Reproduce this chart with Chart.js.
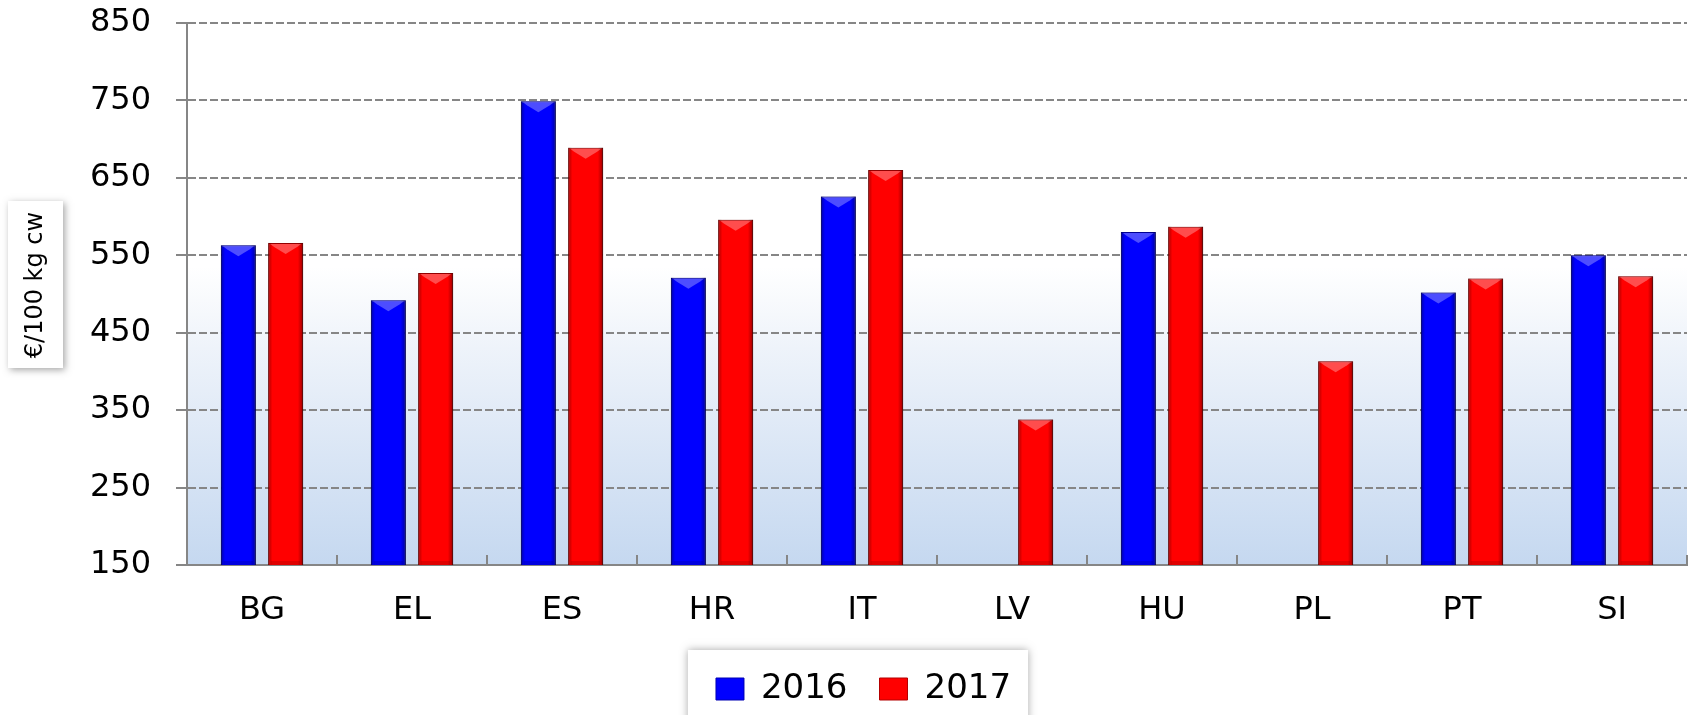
<!DOCTYPE html>
<html>
<head>
<meta charset="utf-8">
<script src="https://cdn.jsdelivr.net/npm/chart.js@4.4.1/dist/chart.umd.min.js"></script>
<style>
  html, body { margin: 0; padding: 0; background: #ffffff; }
  #wrap { width: 1690px; height: 715px; position: relative; }
</style>
</head>
<body>
<div id="wrap"><canvas id="c" width="1690" height="715"></canvas></div>
<script>
const categories = ['BG', 'EL', 'ES', 'HR', 'IT', 'LV', 'HU', 'PL', 'PT', 'SI'];
const values2016 = [563, 492, 749, 521, 626, null, 580, null, 502, 550];
const values2017 = [566, 527, 689, 596, 660, 338, 587, 413, 520, 523];
const seriesNames = ['2016', '2017'];
const yMin = 150;
const yMax = 850;
const yStep = 100;
const yTitle = '€/100 kg cw';

const FONT = 'DejaVu Sans';
const GRID = '#868686';

const bgPlugin = {
  id: 'bgPlugin',
  beforeDraw(chart) {
    const { ctx, chartArea: a } = chart;
    ctx.save();
    const g = ctx.createLinearGradient(0, a.top, 0, a.bottom);
    g.addColorStop(0, '#ffffff');
    g.addColorStop(0.45, '#ffffff');
    g.addColorStop(0.6, '#eef3fa');
    g.addColorStop(1, '#c5d8f0');
    ctx.fillStyle = g;
    ctx.fillRect(a.left, a.top, a.right - a.left, a.bottom - a.top);

    ctx.save();
    ctx.shadowColor = 'rgba(0,0,0,0.35)';
    ctx.shadowBlur = 7;
    ctx.shadowOffsetX = 2;
    ctx.shadowOffsetY = 2;
    ctx.fillStyle = '#ffffff';
    ctx.fillRect(8, 201, 55, 167);
    ctx.restore();

    const lg = chart.legend;
    if (lg && lg.legendHitBoxes && lg.legendHitBoxes.length) {
      const hb = lg.legendHitBoxes;
      const l = hb[0].left - 28;
      const r = hb[hb.length - 1].left + hb[hb.length - 1].width + 17;
      const cy = hb[0].top + hb[0].height / 2;
      const t = cy - 39;
      ctx.save();
      ctx.shadowColor = 'rgba(0,0,0,0.35)';
      ctx.shadowBlur = 8;
      ctx.fillStyle = '#ffffff';
      ctx.fillRect(l, t, r - l, 120);
      ctx.restore();
    }
    ctx.restore();
  },
  beforeDatasetsDraw(chart) {
    const ctx = chart.ctx;
    ctx.save();
    ctx.shadowColor = 'rgba(0,0,0,0.4)';
    ctx.shadowBlur = 6;
    ctx.shadowOffsetX = 1;
    ctx.shadowOffsetY = 0;
  },
  afterDatasetsDraw(chart) {
    const ctx = chart.ctx;
    const a = chart.chartArea;
    ctx.restore();
    ctx.save();
    chart.data.datasets.forEach((ds, di) => {
      const meta = chart.getDatasetMeta(di);
      meta.data.forEach((bar, i) => {
        if (ds.data[i] === null || ds.data[i] === undefined) return;
        const w = bar.width, x = bar.x;
        const t = Math.max(bar.y, a.top);
        const b = Math.min(bar.base, a.bottom);
        const l = x - w / 2, r = x + w / 2;
        const eg = ctx.createLinearGradient(l, 0, r, 0);
        eg.addColorStop(0, 'rgba(0,0,0,0.35)');
        eg.addColorStop(0.12, 'rgba(0,0,0,0)');
        eg.addColorStop(0.85, 'rgba(0,0,0,0)');
        eg.addColorStop(1, 'rgba(0,0,0,0.4)');
        ctx.fillStyle = eg;
        ctx.fillRect(l, t, w, b - t);
        ctx.beginPath();
        ctx.moveTo(l + 2, t + 1);
        ctx.lineTo(r - 2, t + 1);
        ctx.lineTo(r - 6, t + 4);
        ctx.lineTo(x, t + 11);
        ctx.lineTo(l + 6, t + 4);
        ctx.closePath();
        ctx.fillStyle = 'rgba(255,255,255,0.3)';
        ctx.fill();
        ctx.fillStyle = 'rgba(0,0,0,0.12)';
        ctx.fillRect(l + 3, b - 4, w - 6, 4);
      });
    });
    ctx.restore();
  },
  afterDraw(chart) {
    const { ctx, chartArea: a } = chart;
    const xs = chart.scales.x;
    const ys = chart.scales.y;
    ctx.save();
    ctx.strokeStyle = GRID;
    ctx.lineWidth = 2;
    for (let i = 0; i < categories.length; i++) {
      let px;
      if (i < categories.length - 1) {
        px = (xs.getPixelForTick(i) + xs.getPixelForTick(i + 1)) / 2;
      } else {
        px = a.right;
      }
      ctx.beginPath();
      ctx.moveTo(px, a.bottom);
      ctx.lineTo(px, a.bottom - 10);
      ctx.stroke();
    }
    ys.ticks.forEach(tk => {
      const py = Math.round(ys.getPixelForValue(tk.value));
      ctx.beginPath();
      ctx.moveTo(a.left - 11, py);
      ctx.lineTo(a.left, py);
      ctx.stroke();
    });
    ctx.translate(36, 285);
    ctx.rotate(-Math.PI / 2);
    ctx.fillStyle = '#000000';
    ctx.font = '24px "' + FONT + '"';
    ctx.textAlign = 'center';
    ctx.textBaseline = 'middle';
    ctx.fillText(yTitle, 0, 0);
    ctx.restore();
  }
};

new Chart(document.getElementById('c'), {
  type: 'bar',
  data: {
    labels: categories,
    datasets: [
      {
        label: seriesNames[0],
        data: values2016,
        backgroundColor: '#0000ff',
        borderColor: '#0000b4',
        borderWidth: 1
      },
      {
        label: seriesNames[1],
        data: values2017,
        backgroundColor: '#ff0000',
        borderColor: '#b40000',
        borderWidth: 1
      }
    ]
  },
  options: {
    responsive: false,
    animation: false,
    devicePixelRatio: 1,
    layout: { padding: { left: 40, right: 3, top: 23, bottom: -1 } },
    datasets: { bar: { categoryPercentage: 0.63, barPercentage: 0.74 } },
    plugins: {
      legend: {
        position: 'bottom',
        align: 'center',
        labels: {
          font: { family: FONT, size: 34 },
          color: '#000000',
          boxWidth: 28,
          boxHeight: 22,
          padding: 32
        }
      },
      tooltip: { enabled: false },
      title: { display: false }
    },
    scales: {
      x: {
        afterFit(scale) { scale.height = 75; },
        grid: { display: true, drawOnChartArea: false, drawTicks: false },
        border: { display: true, color: GRID, width: 2 },
        ticks: {
          font: { family: FONT, size: 32 },
          color: '#000000',
          padding: 26
        }
      },
      y: {
        min: yMin,
        max: yMax,
        afterFit(scale) { scale.width = 147; },
        ticks: {
          stepSize: yStep,
          font: { family: FONT, size: 32 },
          color: '#000000',
          padding: 0
        },
        grid: {
          color: GRID,
          lineWidth: 2,
          tickLength: 36,
          tickColor: 'rgba(0,0,0,0)',
          tickWidth: 2
        },
        border: { display: true, color: GRID, width: 2, dash: [8, 3] }
      }
    }
  },
  plugins: [bgPlugin]
});
</script>
</body>
</html>
